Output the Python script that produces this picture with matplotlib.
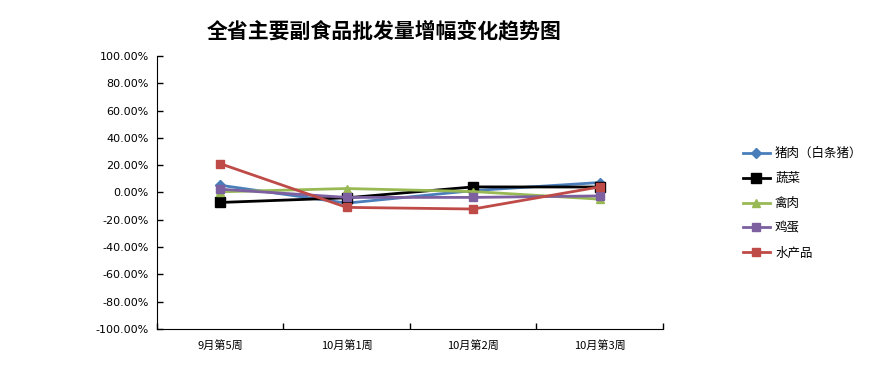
import numpy as np
import matplotlib
matplotlib.use("Agg")
from matplotlib import pyplot as plt
from matplotlib.ticker import FuncFormatter, FixedLocator

plt.rcParams['font.family'] = ['Noto Sans CJK SC', 'DejaVu Sans']

weeks = ["9月第5周", "10月第1周", "10月第2周", "10月第3周"]
names = ["猪肉（白条猪）", "蔬菜", "禽肉", "鸡蛋", "水产品"]
pork = [5.3, -7.8, 1.4, 7.3]
veg = [-7.3, -3.9, 4.1, 4.0]
poultry = [0.5, 2.9, 0.7, -4.9]
egg = [2.4, -3.6, -3.6, -2.5]
aqua = [21.1, -10.9, -12.1, 4.1]

series = [pork, veg, poultry, egg, aqua]
colors = ['#4a7ebb', '#000000', '#98b954', '#7d60a0', '#be4b48']
markers = ['D', 's', '^', 's', 's']
msizes = [5, 6.5, 6, 6, 6]

fig = plt.figure(figsize=(8.8, 3.67), dpi=100)
ax = fig.add_axes([0.1784, 0.1035, 0.575, 0.744])

x = np.arange(len(weeks))
for i, s in enumerate(series):
    ax.plot(x, s, color=colors[i], marker=markers[i], markersize=msizes[i],
            linewidth=2, label=names[i])

ax.set_xlim(-0.5, len(weeks) - 0.5)
ax.set_ylim(-100, 100)
ax.set_yticks(np.arange(-100, 101, 20))
ax.yaxis.set_major_formatter(FuncFormatter(lambda v, p: "%.2f%%" % v))
ax.set_xticks(x)
ax.set_xticklabels(weeks)
ax.xaxis.set_minor_locator(FixedLocator(np.arange(-0.5, len(weeks), 1)))
ax.tick_params(axis='x', which='major', length=0, labelsize=8, pad=8)
ax.tick_params(axis='x', which='minor', direction='in', length=4, width=1)
ax.tick_params(axis='y', direction='in', length=4, width=1, labelsize=8, pad=6)
for lab in ax.get_yticklabels():
    lab.set_family('DejaVu Sans')
ax.spines['top'].set_visible(False)
ax.spines['right'].set_visible(False)

fig.text(0.437, 0.915, "全省主要副食品批发量增幅变化趋势图", ha='center', va='center',
         fontsize=15, fontweight='bold')

ax.legend(loc='center left', bbox_to_anchor=(1.135, 0.46), frameon=False,
          fontsize=9, handlelength=2.2, labelspacing=0.95, handletextpad=0.4)

plt.savefig("out.png", dpi=100)
